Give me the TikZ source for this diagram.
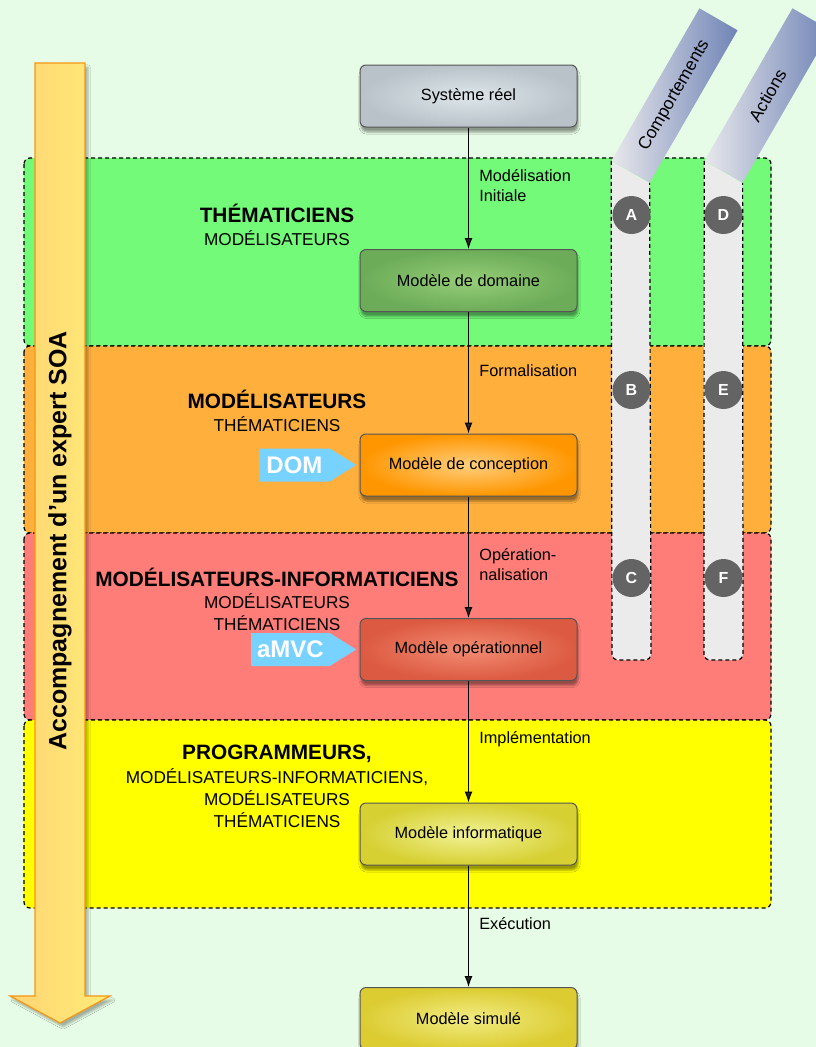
\documentclass[tikz,border=0pt]{standalone}
\usepackage{fontspec}
\setmainfont{Liberation Sans}
\usetikzlibrary{positioning,arrows.meta,shapes.symbols,shadows.blur}
\definecolor{bgc}{RGB}{230,252,230}
\definecolor{bandg}{RGB}{115,250,120}
\definecolor{bando}{RGB}{255,175,60}
\definecolor{bandr}{RGB}{255,125,120}
\definecolor{bandy}{RGB}{255,255,0}
\definecolor{colgray}{RGB}{235,235,235}
\definecolor{mkgray}{RGB}{100,100,100}
\definecolor{banlow}{RGB}{232,232,236}
\definecolor{banhigh}{RGB}{112,132,182}
\definecolor{tagblue}{RGB}{120,210,255}
\definecolor{boxline}{RGB}{85,85,85}
\definecolor{soaleft}{RGB}{255,212,115}
\definecolor{soaright}{RGB}{255,236,120}
\definecolor{soaline}{RGB}{245,150,20}
\newcommand{\rolebf}{\fontsize{20.8}{25}\selectfont\bfseries}

\begin{document}
\begin{tikzpicture}[x=1pt,y=-1pt,>={Latex[length=11pt,width=8pt]},node distance=121.5pt,
  band/.style={draw,dash pattern=on 4pt off 3pt,line width=1.2pt,rounded corners=6pt},
  model/.style={draw=boxline,line width=1pt,rounded corners=6pt,minimum width=217pt,minimum height=62pt,
    shading=radial,font=\fontsize{16.3}{19}\selectfont,
    blur shadow={shadow xshift=1pt,shadow yshift=-5pt,shadow opacity=40}},
  flowlbl/.style={font=\fontsize{16.3}{19.5}\selectfont,align=left,right=7pt,pos=0.48},
  roles/.style={align=center,font=\fontsize{17.2}{22}\selectfont},
  tag/.style={signal,signal to=east,signal pointer angle=64,fill=tagblue,text=white,
    font=\fontsize{24}{26}\selectfont\bfseries,minimum height=33pt,minimum width=97pt,inner xsep=6pt},
  marker/.style={circle,fill=mkgray,text=white,minimum size=38pt,inner sep=0pt,
    font=\fontsize{16}{16}\selectfont\bfseries},
  banner/.style={rotate=60,minimum width=176pt,minimum height=44pt,inner sep=0pt,
    left color=banlow,right color=banhigh,font=\fontsize{17.5}{20}\selectfont},
  colline/.style={dash pattern=on 4pt off 3pt,line width=1.2pt}]
  \useasboundingbox (0,0) rectangle (816,1047);
  \clip (0,0) rectangle (816,1047);
  \fill[bgc] (0,0) rectangle (816,1047);

  % bandes
  \path[band,fill=bandg] (24,158) rectangle (771,346);
  \path[band,fill=bando] (24,346) rectangle (771,533);
  \path[band,fill=bandr] (24,533) rectangle (771,720);
  \path[band,fill=bandy] (24,720) rectangle (771,908);

  % colonnes et bandeaux
  \node[banner] (bcomp) at (674.5,95.5) {Comportements};
  \node[banner] (bact) at (767.5,95.5) {Actions};
  \fill[colgray] (bcomp.north west) [rounded corners=6pt] -- (612,660) -- (651,660) [sharp corners] -- (bcomp.south west) -- cycle;
  \draw[colline] (bcomp.north west) [rounded corners=6pt] -- (612,660) -- (651,660) -- (bcomp.south west);
  \fill[colgray] (bact.north west) [rounded corners=6pt] -- (704,660) -- (743,660) [sharp corners] -- (bact.south west) -- cycle;
  \draw[colline] (bact.north west) [rounded corners=6pt] -- (704,660) -- (743,660) -- (bact.south west);

  \node[marker] (ma) at (631.5,215) {A};
  \node[marker] (mb) at (631.5,390) {B};
  \node[marker] (mc) at (631.5,578) {C};
  \node[marker] (md) at (723.5,215) {D};
  \node[marker] (me) at (723.5,390) {E};
  \node[marker] (mf) at (723.5,578) {F};

  % fleche SOA
  \shade[left color=soaleft,right color=soaright,draw=soaline,line width=1.2pt,
    blur shadow={shadow xshift=3pt,shadow yshift=-4pt,shadow opacity=30}]
    (35,63) -- (85,63) -- (85,996) -- (110,996) -- (60,1023) -- (10,996) -- (35,996) -- cycle;
  \node[rotate=90,font=\fontsize{25}{28}\selectfont\bfseries] (soa) at (60,541) {Accompagnement d'un expert SOA};

  % modeles
  \node[model,inner color={rgb,255:red,222;green,230;blue,234},outer color={rgb,255:red,184;green,194;blue,200}] (sysreel) at (468.5,96) {Système réel};
  \node[model,below=of sysreel,inner color={rgb,255:red,150;green,205;blue,120},outer color={rgb,255:red,108;green,172;blue,88}] (mdom) {Modèle de domaine};
  \node[model,below=of mdom,inner color={rgb,255:red,255;green,206;blue,125},outer color={rgb,255:red,255;green,150;blue,0}] (mconc) {Modèle de conception};
  \node[model,below=of mconc,inner color={rgb,255:red,242;green,140;blue,115},outer color={rgb,255:red,220;green,90;blue,65}] (mop) {Modèle opérationnel};
  \node[model,below=of mop,inner color={rgb,255:red,242;green,242;blue,150},outer color={rgb,255:red,214;green,208;blue,50}] (minfo) {Modèle informatique};
  \node[model,below=of minfo,inner color={rgb,255:red,242;green,236;blue,130},outer color={rgb,255:red,220;green,204;blue,50}] (msim) {Modèle simulé};

  \draw[->,line width=1pt] (sysreel) -- node[flowlbl]{Modélisation\\Initiale} (mdom);
  \draw[->,line width=1pt] (mdom) -- node[flowlbl]{Formalisation} (mconc);
  \draw[->,line width=1pt] (mconc) -- node[flowlbl,pos=0.56]{Opération-\\nalisation} (mop);
  \draw[->,line width=1pt] (mop) -- node[flowlbl]{Implémentation} (minfo);
  \draw[->,line width=1pt] (minfo) -- node[flowlbl]{Exécution} (msim);

  \node[tag,left=3pt of mconc] (tdom) {DOM};
  \node[tag,left=3pt of mop] (tamvc) {aMVC};

  % acteurs
  \node[roles] (rthem) at (277,225) {{\rolebf THÉMATICIENS}\\[1pt]MODÉLISATEURS};
  \node[roles] (rmod) at (277,411) {{\rolebf MODÉLISATEURS}\\[1pt]THÉMATICIENS};
  \node[roles] (rinf) at (277,599) {{\rolebf MODÉLISATEURS-INFORMATICIENS}\\MODÉLISATEURS\\THÉMATICIENS};
  \node[roles] (rprog) at (277,786) {{\rolebf PROGRAMMEURS,}\\[2pt]MODÉLISATEURS-INFORMATICIENS,\\MODÉLISATEURS\\THÉMATICIENS};
\end{tikzpicture}
\end{document}
